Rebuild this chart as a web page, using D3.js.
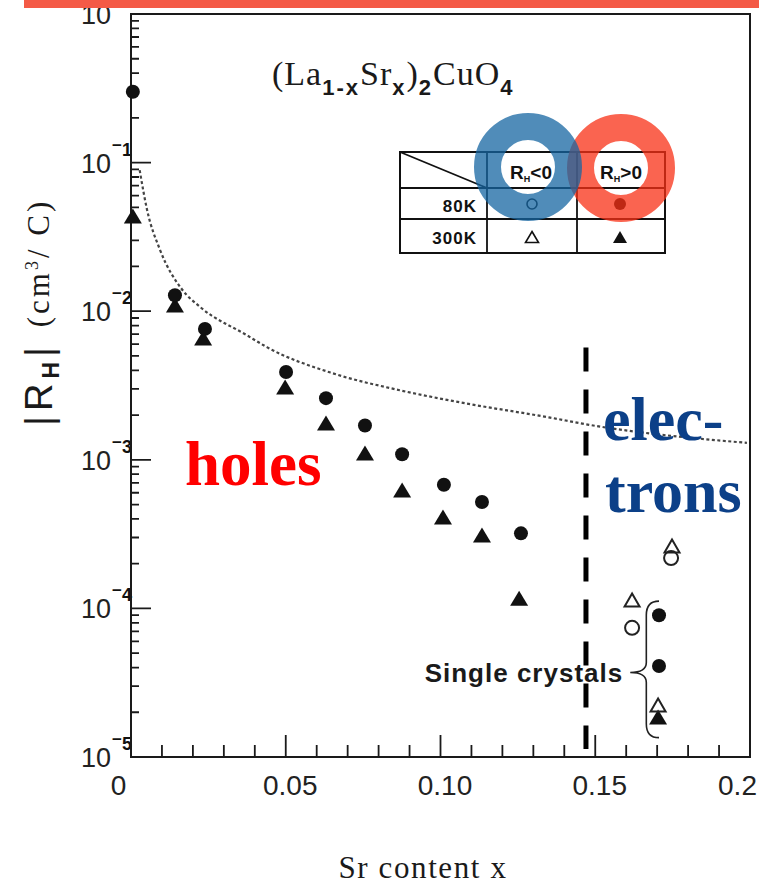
<!DOCTYPE html>
<html><head><meta charset="utf-8">
<script src="https://cdn.jsdelivr.net/npm/d3@7"></script>
<style>body{margin:0;background:#fff}svg{display:block}</style>
</head><body>
<svg id="c" width="759" height="885"></svg>
<script>
// ---------- data ----------
const xTickValues = [0, 0.05, 0.10, 0.15, 0.2];
const xTickLabels = ["0", "0.05", "0.10", "0.15", "0.2"];
const yDecadeExps = [0, -1, -2, -3, -4, -5];

// 80 K, R_H > 0 (filled circles)
const filledCircleX = [0.0006, 0.0142, 0.0239, 0.0501, 0.0630, 0.0756, 0.0876, 0.1011, 0.1134, 0.1260, 0.1706, 0.1706];
const filledCircleY = [0.30, 0.0128, 0.0076, 0.0039, 0.0026, 0.0017, 0.00109, 0.00068, 0.00052, 0.00032, 9.0e-5, 4.1e-5];
// 300 K, R_H > 0 (filled triangles)
const filledTriX = [0.0006, 0.0142, 0.0233, 0.0498, 0.0630, 0.0756, 0.0876, 0.1008, 0.1134, 0.1254, 0.1703];
const filledTriY = [0.0437, 0.0110, 0.0066, 0.00309, 0.00177, 0.00111, 0.000626, 0.000412, 0.000312, 0.000117, 1.86e-5];
// 300 K, R_H < 0 (open triangles)
const openTriX = [0.1748, 0.1619, 0.1703];
const openTriY = [2.63e-4, 1.14e-4, 2.24e-5];
// 80 K, R_H < 0 (open circles)
const openCircX = [0.1745, 0.1619];
const openCircY = [2.18e-4, 7.4e-5];
// dotted curve
const curveX = [0.0028, 0.0052, 0.0094, 0.0165, 0.0223, 0.0374, 0.0439, 0.0652, 0.0868, 0.108, 0.135, 0.148, 0.199];
const curveY = [0.089, 0.048, 0.0258, 0.0140, 0.0107, 0.0069, 0.00573, 0.00382, 0.00294, 0.0024, 0.00193, 0.00172, 0.0013];
// dashed boundary
const boundaryX = 0.147;
const boundaryY = [0.0057, 1.13e-5];
// single-crystal brace
const braceX = [0.1613, 0.1665, 0.1706];
const braceY = [1.12e-4, 3.7e-5, 1.35e-5];

// ---------- setup ----------
const svg = d3.select("#c");
const x = d3.scaleLinear().domain([0, 0.2]).range([131, 750]);
const y = d3.scaleLog().domain([1e-5, 1]).range([757, 14]);
const ink = "#1a1a1a";
const sans = "'Liberation Sans', Arial, sans-serif";
const serif = "'Liberation Serif', 'Times New Roman', serif";
const xLeft = x(0), yBot = y(1e-5);

// ---------- ticks (paths built from the scales) ----------
const minorX = d3.range(1, 20).map(i => i / 100).filter(v => Math.abs(v * 20 - Math.round(v * 20)) > 1e-6);
const majorX = [0.05, 0.1, 0.15];
const minorY = [];
yDecadeExps.slice(1).forEach(e => { for (let k = 2; k <= 9; k++) minorY.push(k * Math.pow(10, e)); });
const majorY = yDecadeExps.slice(1, 5).map(e => Math.pow(10, e));

const tickD =
  minorX.map(v => `M${x(v)},${yBot}V${yBot - 12}`).join("") +
  majorX.map(v => `M${x(v)},${yBot}V${yBot - 22}`).join("") +
  minorY.map(v => `M${xLeft},${y(v)}H${xLeft + 8}`).join("") +
  majorY.map(v => `M${xLeft},${y(v)}H${xLeft + 20}`).join("");
svg.append("path").attr("class", "ticks").attr("d", tickD)
  .attr("fill", "none").attr("stroke", ink).attr("stroke-width", 1.8);

const xl = svg.append("g").attr("transform", `translate(0,${yBot})`)
  .call(d3.axisBottom(x).tickValues(xTickValues).tickSize(0).tickPadding(18)
    .tickFormat((d, i) => xTickLabels[i]));
xl.select(".domain").remove();
xl.selectAll("text").attr("font-family", sans).attr("font-size", 28).attr("fill", "#222")
  .attr("dx", (d, i) => (i === 0 || i === xTickValues.length - 1) ? -13 : 4);

// y tick labels (one text each)
yDecadeExps.forEach(e => {
  const ty = y(Math.pow(10, e));
  const t = svg.append("text").attr("x", 81).attr("y", ty + 10)
    .attr("font-family", sans).attr("font-size", 27).attr("fill", "#222");
  t.append("tspan").text("10");
  if (e !== 0) {
    t.append("tspan").attr("dx", 1).attr("dy", -22).attr("font-weight", "bold").attr("font-size", 17).attr("fill", "#111").text("\u2212");
    t.append("tspan").attr("dy", 5).attr("font-weight", "bold").attr("font-size", 18).attr("fill", "#111").text(String(-e));
  }
});

// frame
svg.append("path")
  .attr("d", `M${x(0)},${y(1)}H${x(0.2)}V${y(1e-5)}H${x(0)}Z`)
  .attr("fill", "none").attr("stroke", ink).attr("stroke-width", 2);

// ---------- dotted curve ----------
svg.append("path")
  .datum(curveX.map((v, i) => [v, curveY[i]]))
  .attr("d", d3.line().x(d => x(d[0])).y(d => y(d[1])).curve(d3.curveMonotoneX))
  .attr("fill", "none").attr("stroke", "#444").attr("stroke-width", 2.2).attr("stroke-dasharray", "3,2.5");

// ---------- dashed boundary ----------
svg.append("line")
  .attr("x1", x(boundaryX)).attr("x2", x(boundaryX))
  .attr("y1", y(boundaryY[0])).attr("y2", y(boundaryY[1]))
  .attr("stroke", "#000").attr("stroke-width", 5).attr("stroke-dasharray", "24,18");

// ---------- markers ----------
const triPath = (w, h) => `M0,${-h / 2}L${w / 2},${h / 2}L${-w / 2},${h / 2}Z`;
svg.append("g").selectAll("path").data(filledTriX.map((v, i) => [v, filledTriY[i]])).join("path")
  .attr("d", triPath(18, 15)).attr("transform", d => `translate(${x(d[0])},${y(d[1])})`).attr("fill", "#111");
svg.append("g").selectAll("circle").data(filledCircleX.map((v, i) => [v, filledCircleY[i]])).join("circle")
  .attr("cx", d => x(d[0])).attr("cy", d => y(d[1])).attr("r", 7).attr("fill", "#111");
svg.append("g").selectAll("path").data(openTriX.map((v, i) => [v, openTriY[i]])).join("path")
  .attr("d", triPath(15, 13)).attr("transform", d => `translate(${x(d[0])},${y(d[1])})`)
  .attr("fill", "none").attr("stroke", "#222").attr("stroke-width", 2);
svg.append("g").selectAll("circle").data(openCircX.map((v, i) => [v, openCircY[i]])).join("circle")
  .attr("cx", d => x(d[0])).attr("cy", d => y(d[1])).attr("r", 7)
  .attr("fill", "none").attr("stroke", "#222").attr("stroke-width", 2);

// ---------- brace + label ----------
{
  const tx = x(braceX[0]), bx = x(braceX[1]), ex = x(braceX[2]);
  const yt = y(braceY[0]), ym = y(braceY[1]), yb = y(braceY[2]);
  svg.append("path")
    .attr("d", `M${ex},${yt}Q${bx},${yt} ${bx},${yt + 14}L${bx},${ym - 10}Q${bx},${ym} ${tx},${ym}Q${bx},${ym} ${bx},${ym + 10}L${bx},${yb - 14}Q${bx},${yb} ${ex},${yb}`)
    .attr("fill", "none").attr("stroke", "#222").attr("stroke-width", 1.6);
  svg.append("text").attr("x", tx - 7).attr("y", ym + 9).attr("text-anchor", "end")
    .attr("font-family", sans).attr("font-weight", "bold").attr("font-size", 26)
    .attr("letter-spacing", 1).attr("fill", "#1a1a1a").text("Single crystals");
}

// ---------- title ----------
{
  const t = svg.append("text").attr("x", 272).attr("y", 85).attr("font-family", serif).attr("font-size", 34)
    .attr("letter-spacing", 1).attr("fill", "#1a1a1a");
  const sub = (s) => t.append("tspan").attr("dy", 10).attr("font-family", sans).attr("font-weight", "bold")
    .attr("font-size", 22).attr("letter-spacing", 2).text(s);
  const norm = (s) => t.append("tspan").attr("dy", -10).attr("letter-spacing", 1).text(s);
  t.append("tspan").text("(La");
  sub("1-x"); norm("Sr"); sub("x"); norm(")"); sub("2"); norm("CuO"); sub("4");
}

// ---------- y-axis label ----------
{
  const g1 = svg.append("g").attr("transform", "translate(52,384) rotate(-90)");
  const t = g1.append("text").attr("text-anchor", "middle").attr("font-family", sans).attr("font-size", 38)
    .attr("letter-spacing", 5).attr("fill", "#1a1a1a");
  t.append("tspan").text("|R");
  t.append("tspan").attr("dy", 7).attr("font-weight", "bold").attr("font-size", 23).text("H");
  t.append("tspan").attr("dy", -7).text("|");
  const g2 = svg.append("g").attr("transform", "translate(49,263) rotate(-90)");
  const t2 = g2.append("text").attr("text-anchor", "middle").attr("font-family", serif).attr("font-size", 31)
    .attr("letter-spacing", 3).attr("fill", "#1a1a1a");
  t2.append("tspan").text("(cm");
  t2.append("tspan").attr("dy", -11).attr("font-size", 18).text("3");
  t2.append("tspan").attr("dy", 11).text("/ C)");
}

// x-axis title
svg.append("text").attr("x", 423).attr("y", 878).attr("text-anchor", "middle")
  .attr("font-family", serif).attr("font-size", 31).attr("letter-spacing", 1.6).attr("fill", "#1a1a1a").text("Sr content x");

// ---------- annotations ----------
svg.append("text").attr("x", 185).attr("y", 485).attr("font-family", serif).attr("font-weight", "bold")
  .attr("font-size", 63).attr("fill", "#ff0000").text("holes");
svg.append("text").attr("x", 603).attr("y", 440).attr("font-family", serif).attr("font-weight", "bold")
  .attr("font-size", 62).attr("fill", "#0c4088").text("elec-");
svg.append("text").attr("x", 605).attr("y", 512).attr("font-family", serif).attr("font-weight", "bold")
  .attr("font-size", 62).attr("fill", "#0c4088").text("trons");

// ---------- legend table ----------
{
  const L = 400, R = 665, T = 152, B = 253, c1 = 487, c2 = 577, r1 = 188, r2 = 219;
  const g = svg.append("g").attr("stroke", "#111").attr("stroke-width", 2).attr("fill", "none");
  g.append("rect").attr("x", L).attr("y", T).attr("width", R - L).attr("height", B - T);
  g.append("path").attr("d", `M${c1},${T}V${B}M${c2},${T}V${B}M${L},${r1}H${R}M${L},${r2}H${R}M${L},${T}L${c1},${r1}`)
    .attr("stroke-width", 1.8);
  const hdr = (cx, s) => {
    const t = svg.append("text").attr("x", cx).attr("y", 179).attr("text-anchor", "middle")
      .attr("font-family", sans).attr("font-weight", "bold").attr("font-size", 19).attr("fill", "#111");
    t.append("tspan").text("R");
    t.append("tspan").attr("font-size", 9).attr("dy", 3).text("H");
    t.append("tspan").attr("dy", -3).text(s);
  };
  hdr(531, "<0"); hdr(621, ">0");
  svg.append("text").attr("x", 477).attr("y", 212).attr("text-anchor", "end").attr("font-family", sans)
    .attr("font-weight", "bold").attr("font-size", 17).attr("letter-spacing", 1).attr("fill", "#111").text("80K");
  svg.append("text").attr("x", 477).attr("y", 244).attr("text-anchor", "end").attr("font-family", sans)
    .attr("font-weight", "bold").attr("font-size", 17).attr("letter-spacing", 1).attr("fill", "#111").text("300K");
  svg.append("circle").attr("cx", 532).attr("cy", 204).attr("r", 5).attr("fill", "none").attr("stroke", "#111").attr("stroke-width", 1.6);
  svg.append("circle").attr("cx", 620).attr("cy", 204).attr("r", 6).attr("fill", "#111");
  svg.append("path").attr("d", triPath(13, 11)).attr("transform", "translate(532,237)")
    .attr("fill", "none").attr("stroke", "#111").attr("stroke-width", 1.6);
  svg.append("path").attr("d", triPath(14, 12)).attr("transform", "translate(620,237)").attr("fill", "#111");
}

// ---------- highlight rings ----------
svg.append("circle").attr("cx", 621).attr("cy", 168).attr("r", 40.5).attr("fill", "none")
  .attr("stroke", "rgb(248,48,22)").attr("stroke-opacity", 0.75).attr("stroke-width", 27);
svg.append("circle").attr("cx", 528).attr("cy", 167).attr("r", 40.5).attr("fill", "none")
  .attr("stroke", "rgb(22,102,162)").attr("stroke-opacity", 0.75).attr("stroke-width", 27);

// top bar
svg.append("rect").attr("x", 24).attr("y", 0).attr("width", 735).attr("height", 8).attr("fill", "rgb(244,90,70)");
</script>
</body></html>
